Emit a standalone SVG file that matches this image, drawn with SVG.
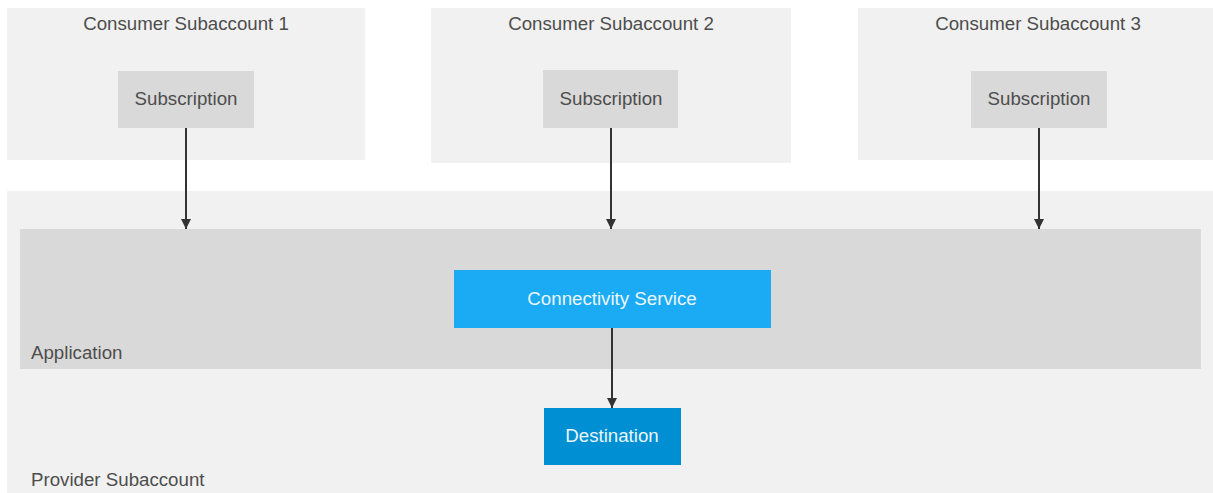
<svg xmlns="http://www.w3.org/2000/svg" width="1213" height="493" viewBox="0 0 1213 493">
<defs>
<style>
.acct{fill:#f1f1f1}
.gray{fill:#d9d9d9}
.t{font-family:"Liberation Sans",Arial,sans-serif;font-size:18.7px;fill:#4d4d4d}
.w{font-family:"Liberation Sans",Arial,sans-serif;font-size:18.7px;fill:#eaf6fd}
.c{text-anchor:middle}
.conn{stroke:#333;stroke-width:2;fill:none;marker-end:url(#ah)}
</style>
<marker id="ah" viewBox="0 0 10 10" refX="10" refY="5" markerWidth="5" markerHeight="5" markerUnits="strokeWidth" orient="auto">
<path d="M0,0 L10,5 L0,10 z" fill="#333"/>
</marker>
</defs>
<rect width="1213" height="493" fill="#fff"/>
<g id="consumer1">
<rect class="acct" x="7" y="8" width="358" height="152"/>
<text class="t c" x="186" y="30">Consumer Subaccount 1</text>
</g>
<g id="consumer2">
<rect class="acct" x="431" y="8" width="360" height="155"/>
<text class="t c" x="611" y="30">Consumer Subaccount 2</text>
</g>
<g id="consumer3">
<rect class="acct" x="858" y="8" width="355" height="152"/>
<text class="t c" x="1038" y="30">Consumer Subaccount 3</text>
</g>
<g id="provider">
<rect class="acct" x="7" y="191" width="1206" height="302"/>
<text class="t" x="31" y="486">Provider Subaccount</text>
</g>
<g id="application">
<rect class="gray" x="20" y="229" width="1181" height="140"/>
<text class="t" x="31" y="359">Application</text>
</g>
<g id="sub1">
<rect class="gray" x="118" y="71" width="136" height="57"/>
<text class="t c" x="186" y="105">Subscription</text>
</g>
<g id="sub2">
<rect class="gray" x="543" y="70" width="135" height="58"/>
<text class="t c" x="611" y="105">Subscription</text>
</g>
<g id="sub3">
<rect class="gray" x="971" y="71" width="136" height="57"/>
<text class="t c" x="1039" y="105">Subscription</text>
</g>
<g id="connectivity">
<rect x="454" y="270" width="317" height="58" fill="#1aabf4"/>
<text class="w c" x="612" y="305">Connectivity Service</text>
</g>
<g id="destination">
<rect x="544" y="408" width="137" height="57" fill="#008fd3"/>
<text class="w c" x="612" y="442">Destination</text>
</g>
<g id="connectors">
<line class="conn" x1="186" y1="128" x2="186" y2="229"/>
<line class="conn" x1="611" y1="128" x2="611" y2="229"/>
<line class="conn" x1="1039" y1="128" x2="1039" y2="229"/>
<line class="conn" x1="612" y1="328" x2="612" y2="408"/>
</g>
</svg>
